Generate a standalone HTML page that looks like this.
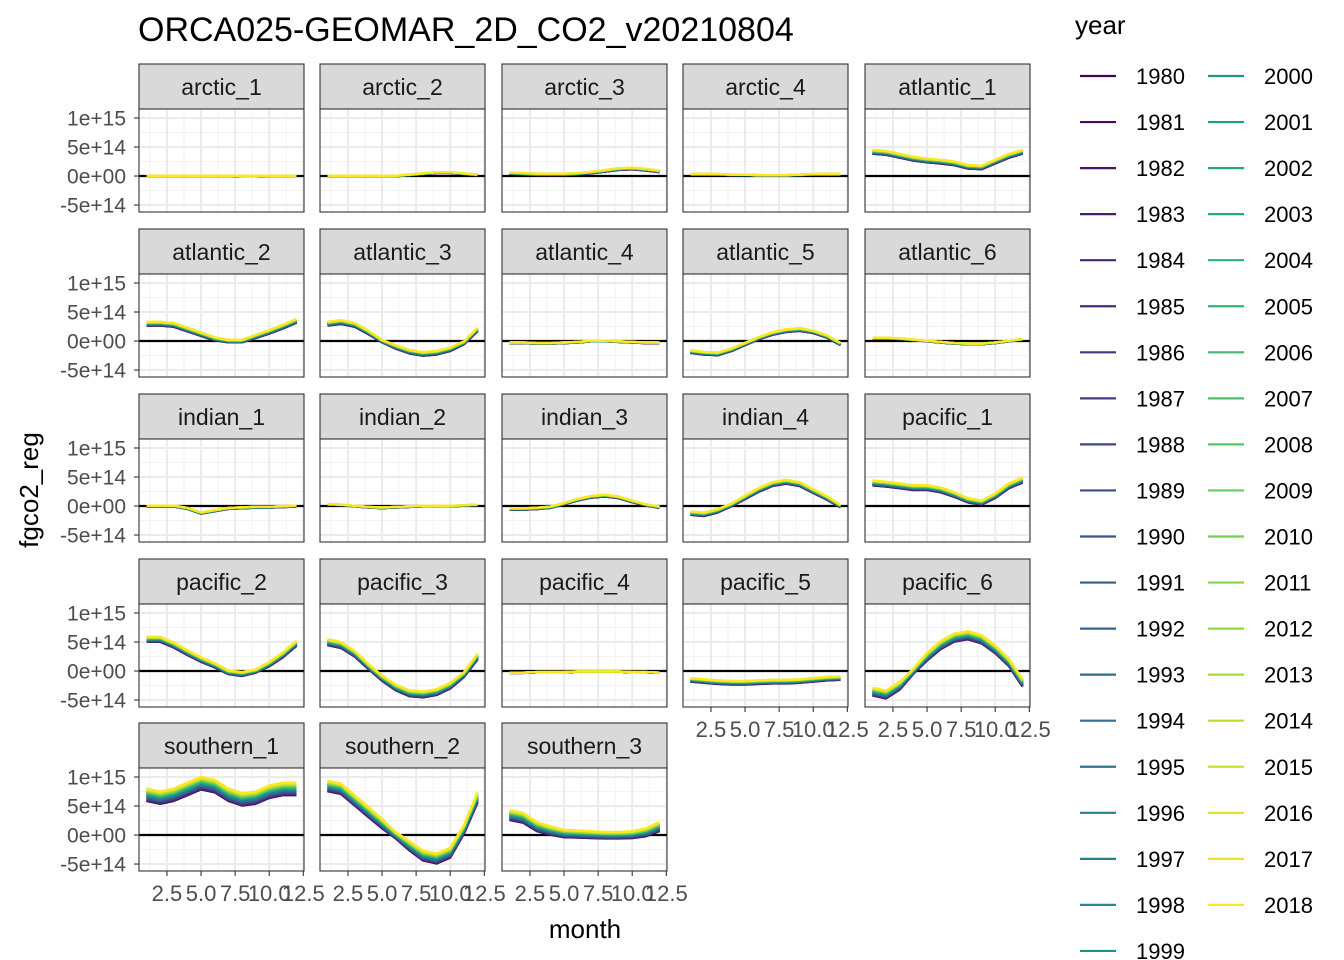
<!DOCTYPE html>
<html><head><meta charset="utf-8">
<style>
html,body{margin:0;padding:0;background:#fff;}
svg{display:block;font-family:"Liberation Sans",Arial,sans-serif;}
</style></head>
<body>
<svg id="chart" width="1344" height="960" viewBox="0 0 1344 960" xmlns="http://www.w3.org/2000/svg">
<text x="138" y="41" font-size="34" fill="#000">ORCA025-GEOMAR_2D_CO2_v20210804</text>
<text transform="translate(38,490) rotate(-90)" text-anchor="middle" font-size="26" fill="#000">fgco2_reg</text>
<text x="585" y="938" text-anchor="middle" font-size="26" fill="#000">month</text>
<text x="1075" y="34" font-size="26" fill="#000">year</text>
<g id="panels"></g>
<g id="legend"></g>
</svg>
<script>
// ---- data (values in units of 1e14) ----
const months = [1,2,3,4,5,6,7,8,9,10,11,12];
const years = [1980,1981,1982,1983,1984,1985,1986,1987,1988,1989,1990,1991,1992,1993,1994,1995,1996,1997,1998,1999,2000,2001,2002,2003,2004,2005,2006,2007,2008,2009,2010,2011,2012,2013,2014,2015,2016,2017,2018];
const yearOffsets = [-1.0,-0.9,-0.95,-0.8,-0.85,-0.7,-0.75,-0.6,-0.55,-0.6,-0.45,-0.4,-0.35,-0.4,-0.25,-0.2,-0.25,-0.1,-0.05,0,0.05,0.1,0.0,0.2,0.15,0.3,0.25,0.35,0.4,0.35,0.5,0.45,0.55,0.6,0.65,0.7,0.75,0.8,0.9];
const panelNames = ["arctic_1","arctic_2","arctic_3","arctic_4","atlantic_1","atlantic_2","atlantic_3","atlantic_4","atlantic_5","atlantic_6","indian_1","indian_2","indian_3","indian_4","pacific_1","pacific_2","pacific_3","pacific_4","pacific_5","pacific_6","southern_1","southern_2","southern_3"];
const profiles = {
 arctic_1:[0,0,0,0,0,0,0,0.05,0.05,0,0,0],
 arctic_2:[0,0,0,0,0,0,0.2,0.4,0.6,0.6,0.4,0.2],
 arctic_3:[0.5,0.4,0.3,0.3,0.3,0.4,0.6,0.9,1.2,1.3,1.1,0.8],
 arctic_4:[0.3,0.3,0.3,0.2,0.2,0.1,0.1,0.1,0.2,0.3,0.3,0.3],
 atlantic_1:[4.2,4,3.5,3,2.7,2.5,2.2,1.6,1.5,2.5,3.5,4.2],
 atlantic_2:[3,3,2.8,2,1.2,0.4,0,0,0.8,1.6,2.5,3.5],
 atlantic_3:[3,3.3,2.8,1.5,0,-1,-1.8,-2.2,-2,-1.4,-0.3,2],
 atlantic_4:[-0.3,-0.3,-0.4,-0.4,-0.3,-0.2,0,0,-0.1,-0.2,-0.3,-0.3],
 atlantic_5:[-1.8,-2.1,-2.2,-1.5,-0.5,0.5,1.3,1.8,2,1.6,0.8,-0.5],
 atlantic_6:[0.5,0.5,0.4,0.2,0,-0.2,-0.4,-0.5,-0.5,-0.3,0,0.3],
 indian_1:[0,0,0,-0.4,-1.2,-0.8,-0.4,-0.3,-0.2,-0.2,-0.1,0],
 indian_2:[0.3,0.2,0,-0.2,-0.3,-0.2,-0.1,0,0,0,0.1,0.2],
 indian_3:[-0.5,-0.5,-0.4,-0.2,0.4,1.1,1.6,1.8,1.5,0.8,0.2,-0.2],
 indian_4:[-1.2,-1.4,-0.8,0.2,1.5,2.8,3.8,4.2,3.8,2.6,1.4,0],
 pacific_1:[4,3.8,3.5,3.2,3.2,2.8,2,1,0.6,1.8,3.5,4.5],
 pacific_2:[5.5,5.5,4.5,3.2,2,1,-0.2,-0.5,0,1.2,2.8,4.8],
 pacific_3:[5,4.5,3,0.8,-1.2,-2.8,-3.8,-4,-3.6,-2.5,-0.6,2.5],
 pacific_4:[-0.3,-0.3,-0.2,-0.2,-0.2,-0.1,-0.1,-0.1,-0.1,-0.2,-0.2,-0.3],
 pacific_5:[-1.5,-1.7,-1.9,-2,-2,-1.9,-1.8,-1.8,-1.7,-1.5,-1.3,-1.2],
 pacific_6:[-3.5,-4,-2.5,0,2.5,4.5,5.8,6.2,5.5,3.8,1.5,-2],
 southern_1:[7,6.5,7,8,9,8.5,7,6.2,6.5,7.5,8,8],
 southern_2:[8.5,8,6,4,2,0,-1.8,-3.5,-4,-3,1,6.5],
 southern_3:[3.5,3,1.5,0.8,0.3,0.2,0.1,0,0,0.1,0.5,1.5]
};
const spreads = {arctic_1:0.05,arctic_2:0.1,arctic_3:0.2,arctic_4:0.1,atlantic_1:0.4,atlantic_2:0.4,atlantic_3:0.4,atlantic_4:0.1,atlantic_5:0.3,atlantic_6:0.1,indian_1:0.15,indian_2:0.1,indian_3:0.2,indian_4:0.4,pacific_1:0.5,pacific_2:0.5,pacific_3:0.6,pacific_4:0.05,pacific_5:0.4,pacific_6:0.8,southern_1:1.2,southern_2:1.0,southern_3:1.0};
const yTicks = [10,5,0,-5];
const yTickLabels = ["1e+15","5e+14","0e+00","-5e+14"];
const xTicks = [2.5,5,7.5,10,12.5];
const xTickLabels = ["2.5","5.0","7.5","10.0","12.5"];

// ---- layout ----
const NS="http://www.w3.org/2000/svg";
const colX=[139,320,502,683,865], PW=165;
const rowY=[64,229,394,559,723], SH=45, PH=103;
function el(t,a,p){const e=document.createElementNS(NS,t);for(const k in a)e.setAttribute(k,a[k]);p.appendChild(e);return e;}
function viridis(t){
 const c=[[68,1,84],[72,40,120],[62,74,137],[49,104,142],[38,130,142],[31,158,137],[53,183,121],[109,205,89],[180,222,44],[253,231,37]];
 const s=t*(c.length-1),i=Math.min(Math.floor(s),c.length-2),f=s-i;
 return "rgb("+c[i].map((v,j)=>Math.round(v+(c[i+1][j]-v)*f)).join(",")+")";
}
const g=document.getElementById("panels");
panelNames.forEach((name,idx)=>{
 const r=Math.floor(idx/5),c=idx%5;
 const x0=colX[c], sy=rowY[r], py=sy+SH;
 const xs=m=>x0+(m-0.45)/12.1*PW;
 const ys=v=>py+PH-(v-(-6.2))/(11.55+6.2)*PH;
 const pg=el("g",{},g);
 
 
 const strip=el("rect",{x:x0,y:sy,width:PW,height:SH,fill:"#d9d9d9",stroke:"#333","stroke-width":1.1},pg);
 
 
 const st=el("text",{x:x0+PW/2,y:sy+31,"text-anchor":"middle","font-size":23,fill:"#1a1a1a"},pg);
 st.textContent=name;
 
 
 el("rect",{x:x0,y:py,width:PW,height:PH,fill:"#fff"},pg);
 [1.25,3.75,6.25,8.75,11.25].forEach(m=>el("line",{x1:xs(m),x2:xs(m),y1:py,y2:py+PH,stroke:"#f2f2f2","stroke-width":1},pg));
 [7.5,2.5,-2.5].forEach(v=>el("line",{x1:x0,x2:x0+PW,y1:ys(v),y2:ys(v),stroke:"#f2f2f2","stroke-width":1},pg));
 xTicks.forEach(m=>el("line",{x1:xs(m),x2:xs(m),y1:py,y2:py+PH,stroke:"#ebebeb","stroke-width":2},pg));
 yTicks.forEach(v=>el("line",{x1:x0,x2:x0+PW,y1:ys(v),y2:ys(v),stroke:"#ebebeb","stroke-width":2},pg));
 const zl=el("line",{x1:x0,x2:x0+PW,y1:ys(0),y2:ys(0),stroke:"#000","stroke-width":2.2},pg);
 
 
 const base=profiles[name], sp=spreads[name];
 years.forEach((yr,yi)=>{
  const pts=months.map((m,i)=>xs(m).toFixed(1)+","+ys(base[i]+yearOffsets[yi]*sp*(0.6+0.4*Math.abs(base[i])/(Math.abs(base[i])+1))).toFixed(1)).join(" ");
  const pl=el("polyline",{points:pts,fill:"none",stroke:viridis(yi/(years.length-1)),"stroke-width":2.2,"stroke-linejoin":"round"},pg);
  
  
 });
 el("rect",{x:x0,y:py,width:PW,height:PH,fill:"none",stroke:"#333","stroke-width":1.1},pg);
 if(c===0){
  yTicks.forEach((v,i)=>{
   el("line",{x1:x0-5,x2:x0,y1:ys(v),y2:ys(v),stroke:"#333","stroke-width":1.1},pg);
   const t=el("text",{x:x0-13,y:ys(v)+7.5,"text-anchor":"end","font-size":21,fill:"#4d4d4d"},pg);
   t.textContent=yTickLabels[i];
   
   
  });
 }
 const showX = (r===4) || (r===3 && c>=3);
 if(showX){
  xTicks.forEach((m,i)=>{
   el("line",{x1:xs(m),x2:xs(m),y1:py+PH,y2:py+PH+5,stroke:"#333","stroke-width":1.1},pg);
   const t=el("text",{x:xs(m),y:py+PH+30,"text-anchor":"middle","font-size":22,fill:"#4d4d4d"},pg);
   t.textContent=xTickLabels[i];
   
   
  });
 }
});
// legend
const lg=document.getElementById("legend");
years.forEach((yr,yi)=>{
 const col=yi<20?0:1, row=yi<20?yi:yi-20;
 const lx=col===0?1080:1208, ty=76+row*46.05;
 const e=el("g",{},lg);
 
 
 el("line",{x1:lx,x2:lx+36,y1:ty,y2:ty,stroke:viridis(yi/(years.length-1)),"stroke-width":2.2},e);
 const t=el("text",{x:lx+56,y:ty+8,"font-size":22,fill:"#000"},e);
 t.textContent=yr;
});
</script>
</body></html>
